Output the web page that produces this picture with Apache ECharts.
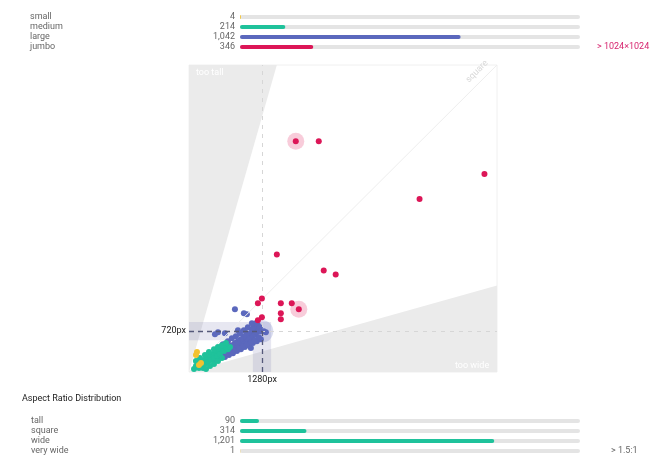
<!DOCTYPE html>
<html>
<head>
<meta charset="utf-8">
<script src="https://cdn.jsdelivr.net/npm/echarts@6/dist/echarts.min.js"></script>
<style>html,body{margin:0;padding:0;background:#fff}#c{width:665px;height:472px}</style>
</head>
<body>
<div id="c"></div>
<script>
// ---- data ----
var sizeCategories = ['small', 'medium', 'large', 'jumbo'];
var sizeCounts = [4, 214, 1042, 346];
var ratioCategories = ['tall', 'square', 'wide', 'very wide'];
var ratioCounts = [90, 314, 1201, 1];
var totalImages = 1606;

// image width, height (px)
var smallPoints = [[140,350],[122,298],[210,158],[175,122]];
var mediumPoints = [[88,52],[122,105],[158,140],[175,70],[210,175],[228,105],[245,70],[262,210],[280,140],[315,245],[332,175],[368,280],[385,210],[420,315],[438,245],[472,350],[490,280],[525,385],[542,315],[578,402],[612,368],[648,438],[682,402],[718,438],[192,245],[158,192],
  [122,192],[280,298],[350,350],[438,402],[508,438],[578,472],[648,508],[298,52],[368,105],[438,140],[508,192],[578,245]];
var largePoints = [[402,245],[455,280],[508,262],[542,332],[578,298],[612,368],[648,332],[682,402],[700,350],[735,438],[770,385],[788,472],[822,420],[840,508],[875,455],[892,542],[928,490],[945,578],[980,525],[998,612],[1032,560],[1050,648],[1068,595],[1085,682],[1120,630],[1138,718],[1155,665],[1172,770],[1190,700],[1208,822],[1225,735],[1138,805],[1102,752],[1015,682],[962,630],[910,578],[858,542],[805,508],[752,472],[700,438],[648,402],[595,350],[542,298],[490,245],[438,210],[1242,788],[1172,858],[1260,718],[1312,718],[1348,700],[805,1102],[1015,1015],[962,1032],[508,700],[630,682],[455,665],[1085,420],[858,735],
  [630,262],[700,298],[770,332],[840,368],[910,402],[980,438],[1050,472],[1120,508],[1190,542],[1260,578],[665,315],[735,350],[805,385],[875,420],[945,455],[1015,490],[1085,525],[1155,560],[1225,612],
  [595,490],[682,542],[752,595],[822,630],[892,682],[962,735],[1032,788],[1102,858]];
var jumboPoints = [[1872,4060],[2275,4060],[5180,3482],[4042,3045],[1540,2065],[2362,1785],[2572,1715],[1278,1295],[1208,1208],[1610,1208],[1802,1208],[1925,1102],[1610,1032],[1610,928],[1278,962],[1208,910]];
var jumboHighlights = [[1872,4060],[1925,1102]];
var largeHighlights = [[1285,715]];
var refWidth = 1280, refHeight = 720;
var tooTallWedge = [[0,0],[0,5400],[1540,5400]];
var tooWideWedge = [[0,0],[5400,0],[5400,1520]];
var axisMax = 5400;

var sizeColors = ['#f2c230', '#1fc29b', '#5b68bd', '#dc1657'];
var FONT = 'Roboto, "Noto Sans", sans-serif';

var chart = echarts.init(document.getElementById('c'));

function wedge(points) {
  return {
    type: 'custom', xAxisIndex: 2, yAxisIndex: 4, silent: true, z: 0,
    data: [0],
    renderItem: function (params, api) {
      return {
        type: 'polygon',
        shape: { points: points.map(function (p) { return api.coord(p); }) },
        style: { fill: '#ebebeb' }
      };
    }
  };
}

var labelStyle = { color: '#666', fontSize: 9, fontFamily: FONT, interval: 0 };

chart.setOption({
  animation: false,
  textStyle: { fontFamily: FONT },
  grid: [
    { left: 240, right: 85, top: 12, height: 40 },
    { left: 240, right: 85, top: 416, height: 40 },
    { left: 189, top: 65, width: 308, height: 307, show: true, borderColor: '#f0f0f0', borderWidth: 1, backgroundColor: '#fff' }
  ],
  xAxis: [
    { gridIndex: 0, type: 'value', min: 0, max: totalImages, show: false },
    { gridIndex: 1, type: 'value', min: 0, max: totalImages, show: false },
    { gridIndex: 2, type: 'value', min: 0, max: axisMax, show: false }
  ],
  yAxis: [
    { gridIndex: 0, type: 'category', inverse: true, data: sizeCategories, position: 'left',
      axisLine: { show: false }, axisTick: { show: false },
      axisLabel: Object.assign({ align: 'left', margin: 210 }, labelStyle) },
    { gridIndex: 0, type: 'category', inverse: true, position: 'left', offset: 0,
      data: sizeCounts.map(function (v) { return v.toLocaleString('en-US'); }),
      axisLine: { show: false }, axisTick: { show: false },
      axisLabel: Object.assign({ margin: 5 }, labelStyle) },
    { gridIndex: 1, type: 'category', inverse: true, data: ratioCategories, position: 'left',
      axisLine: { show: false }, axisTick: { show: false },
      axisLabel: Object.assign({ align: 'left', margin: 209 }, labelStyle) },
    { gridIndex: 1, type: 'category', inverse: true, position: 'left', offset: 0,
      data: ratioCounts.map(function (v) { return v.toLocaleString('en-US'); }),
      axisLine: { show: false }, axisTick: { show: false },
      axisLabel: Object.assign({ margin: 5 }, labelStyle) },
    { gridIndex: 2, type: 'value', min: 0, max: axisMax, show: false }
  ],
  graphic: [
    { type: 'text', left: 22, top: 394, style: { text: 'Aspect Ratio Distribution', fill: '#222', fontSize: 9, fontFamily: FONT } },
    { type: 'text', left: 597, top: 42, style: { text: '> 1024×1024', fill: '#d6246e', fontSize: 9, fontFamily: FONT } },
    { type: 'text', left: 611, top: 446, style: { text: '> 1.5:1', fill: '#666', fontSize: 9, fontFamily: FONT } },
    { type: 'text', left: 196, top: 68, z: 10, style: { text: 'too tall', fill: '#fff', fontSize: 9, fontFamily: FONT } },
    { type: 'text', left: 455, top: 361, z: 10, style: { text: 'too wide', fill: '#fff', fontSize: 9, fontFamily: FONT } }
  ],
  series: [
    { type: 'bar', xAxisIndex: 0, yAxisIndex: 0, data: sizeCounts, barWidth: 4,
      showBackground: true, backgroundStyle: { color: '#e4e4e4', borderRadius: 2 },
      itemStyle: { borderRadius: 2, color: function (p) { return sizeColors[p.dataIndex]; } } },
    { type: 'bar', xAxisIndex: 1, yAxisIndex: 2, data: ratioCounts, barWidth: 4,
      showBackground: true, backgroundStyle: { color: '#e4e4e4', borderRadius: 2 },
      itemStyle: { borderRadius: 2, color: function (p) { return p.dataIndex === 3 ? '#f2c230' : '#1fc29b'; } } },
    wedge(tooTallWedge),
    wedge(tooWideWedge),
    { type: 'line', xAxisIndex: 2, yAxisIndex: 4, data: [], silent: true,
      markLine: { silent: true, symbol: 'none', animation: false,
        data: [
          [{ coord: [0, 0], lineStyle: { color: '#eeeeee', width: 1, type: 'solid' },
             label: { show: true, position: 'insideEndTop', formatter: 'square', color: '#d8d8d8', fontSize: 9, fontFamily: FONT } },
           { coord: [axisMax, axisMax] }],
          [{ coord: [refWidth, 0], lineStyle: { color: '#d6d6d6', width: 1, type: [4, 5] }, label: { show: false } }, { coord: [refWidth, axisMax] }],
          [{ coord: [0, refHeight], lineStyle: { color: '#d6d6d6', width: 1, type: [4, 5] }, label: { show: false } }, { coord: [axisMax, refHeight] }],
          [{ coord: [0, refHeight], lineStyle: { color: '#55597a', width: 1.3, type: [5, 4] },
             label: { show: true, position: 'start', formatter: '720px', color: '#222', fontSize: 9, fontFamily: FONT, distance: 3 } },
           { coord: [refWidth, refHeight] }],
          [{ coord: [refWidth, 0], lineStyle: { color: '#55597a', width: 1.3, type: [5, 4] },
             label: { show: true, position: 'start', formatter: '1280px', color: '#222', fontSize: 9, fontFamily: FONT, distance: 3 } },
           { coord: [refWidth, refHeight] }]
        ] },
      markArea: { silent: true,
        itemStyle: { color: 'rgba(110,110,170,0.17)' },
        data: [
          [{ coord: [0, refHeight - 160] }, { coord: [refWidth + 160, refHeight + 160] }],
          [{ coord: [refWidth - 160, 0] }, { coord: [refWidth + 160, refHeight - 160] }]
        ] }
    },
    { type: 'scatter', xAxisIndex: 2, yAxisIndex: 4, data: largeHighlights, symbolSize: 22, z: 3,
      itemStyle: { color: 'rgba(91,104,189,0.28)' } },
    { type: 'scatter', xAxisIndex: 2, yAxisIndex: 4, data: jumboHighlights, symbolSize: 17, z: 3,
      itemStyle: { color: 'rgba(224,25,90,0.28)' } },
    { type: 'scatter', xAxisIndex: 2, yAxisIndex: 4, data: largePoints, symbolSize: 6, z: 4,
      itemStyle: { color: sizeColors[2], opacity: 1 } },
    { type: 'scatter', xAxisIndex: 2, yAxisIndex: 4, data: mediumPoints, symbolSize: 6, z: 5,
      itemStyle: { color: sizeColors[1], opacity: 1 } },
    { type: 'scatter', xAxisIndex: 2, yAxisIndex: 4, data: smallPoints, symbolSize: 6, z: 6,
      itemStyle: { color: sizeColors[0], opacity: 1 } },
    { type: 'scatter', xAxisIndex: 2, yAxisIndex: 4, data: jumboPoints, symbolSize: 6, z: 6,
      itemStyle: { color: sizeColors[3], opacity: 1 } }
  ]
});
</script>
</body>
</html>
